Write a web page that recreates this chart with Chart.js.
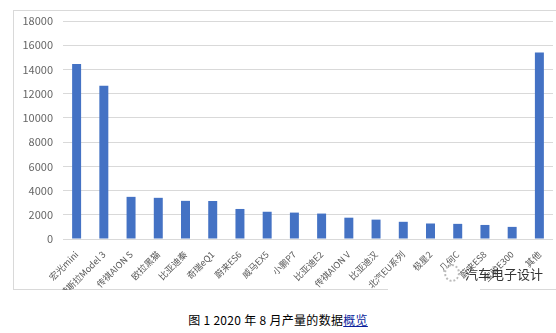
<!DOCTYPE html>
<html>
<head>
<meta charset="utf-8">
<script src="https://cdn.jsdelivr.net/npm/chart.js@4/dist/chart.umd.min.js"></script>
<style>
  body { margin: 0; background: #fff; width: 556px; height: 333px; overflow: hidden; position: relative; font-family: "Noto Sans CJK SC", sans-serif; }
  #frame { position: absolute; left: 13px; top: 10px; width: 560px; height: 278px; border: 1px solid #d9d9d9; }
  #wrap { position: absolute; left: 0; top: 0; width: 556px; height: 290px; }
  #mark { position: absolute; left: 444px; top: 263px; height: 22px; white-space: nowrap; font-size: 13px; color: #333; line-height: 22px; }
  #mark .ic { display: inline-block; width: 12px; height: 14px; border: 2px dotted #bbb; border-radius: 50%; vertical-align: -3px; margin-right: 5px; }
  #gap { position: absolute; left: 388px; top: 286px; width: 92px; height: 6px; background: #fff; }
  #caption { position: absolute; left: 0; width: 556px; top: 311px; text-align: center; font-size: 12px; color: #000; letter-spacing: 0.3px; }
  #caption a { color: #0b1f9c; text-decoration: underline; }
</style>
</head>
<body>
<div id="frame"></div>
<div id="wrap"><canvas id="myChart" width="556" height="290"></canvas></div>
<div id="gap"></div>
<div id="mark"><span class="ic"></span>汽车电子设计</div>
<div id="caption">图 1 2020 年 8 月产量的数据<a>概览</a></div>
<script>
// 2020年8月 车型产量
let models = ['宏光mini', '特斯拉Model 3', '传祺AION S', '欧拉黑猫', '比亚迪秦', '奇瑞eQ1', '蔚来ES6', '威马EX5', '小鹏P7',
    '比亚迪E2', '传祺AION V', '比亚迪汉', '北汽EU系列', '极星2', '几何C', '蔚来ES8', '宝骏E300', '其他'];
let output = [14450, 12650, 3480, 3400, 3150, 3140, 2480, 2250, 2180,
    2100, 1760, 1600, 1420, 1280, 1250, 1160, 1000, 15400];
let yTicks = [0, 2000, 4000, 6000, 8000, 10000, 12000, 14000, 16000, 18000];

window.onload = function() {
    let ctx = document.getElementById('myChart').getContext('2d');

    let myChart = new Chart(ctx, {
        type: 'bar',
        data: {
            labels: models,
            datasets: [{
                label: '产量',
                data: output,
                backgroundColor: '#4472c4',
                barPercentage: 0.33,
                categoryPercentage: 1
            }]
        },
        options: {
            responsive: false,
            animation: false,
            layout: { padding: { top: 21, right: 3, left: 0, bottom: 0 } },
            plugins: {
                legend: { display: false },
                tooltip: { enabled: false }
            },
            scales: {
                x: {
                    grid: { display: false },
                    border: { display: false },
                    ticks: {
                        minRotation: 45,
                        maxRotation: 45,
                        autoSkip: false,
                        padding: 2,
                        color: '#595959',
                        font: { family: 'Noto Sans CJK SC', size: 9 }
                    },
                    afterFit: function(axis) { axis.height = 51; }
                },
                y: {
                    min: 0,
                    max: 18000,
                    afterBuildTicks: function(axis) {
                        axis.ticks = yTicks.map(function(v) { return { value: v }; });
                    },
                    grid: { color: '#d9d9d9', drawTicks: false },
                    border: { display: false },
                    ticks: {
                        padding: 10,
                        color: '#666666',
                        font: { family: 'Noto Sans CJK SC', size: 11 },
                        callback: function(v) { return String(v); }
                    },
                    afterFit: function(axis) { axis.width = 63; }
                }
            }
        }
    });
};
</script>
</body>
</html>
